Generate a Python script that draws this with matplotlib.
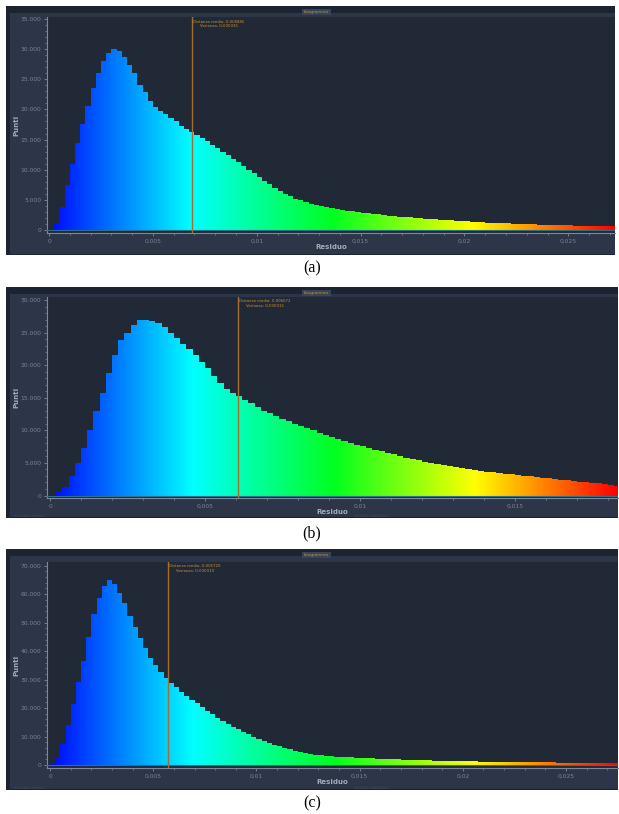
import numpy as np
import matplotlib
matplotlib.use("Agg")
import matplotlib.pyplot as plt
from matplotlib.colors import LinearSegmentedColormap
from matplotlib.patches import Rectangle
from matplotlib.ticker import FuncFormatter, MultipleLocator

W, H = 619, 814

# ---- panel (a) : histogram counts, bin width 0.00025 starting at 0
bin_a = 0.00025
counts_a = [100, 1200, 3800, 7500,
            11000, 14500, 17500, 20500,
            23500, 26000, 28000, 29300,
            30100, 29700, 28700, 27400, 26000,
            24000, 22900, 21400, 20400,
            19700, 19200, 18600, 18000,
            17300, 16800, 16300, 15700,
            15200, 14700, 14100, 13600,
            13000, 12400, 11800, 11200,
            10600, 10000, 9400, 8800,
            8200, 7600, 7000, 6500,
            6000, 5600, 5200, 4900,
            4600, 4350, 4100, 3900,
            3750, 3600, 3450, 3300,
            3200, 3100, 3000, 2900,
            2800, 2700, 2600, 2500,
            2400, 2300, 2220, 2150,
            2080, 2000, 1940, 1880,
            1820, 1760, 1700, 1640,
            1580, 1530, 1480, 1430,
            1380, 1330, 1280, 1240,
            1200, 1160, 1120, 1080,
            1040, 1010, 980, 950,
            920, 890, 860, 840,
            820, 800, 780, 760,
            740, 720, 700, 680,
            660, 640, 620, 600]
mean_a = 0.006885
text_a = "Distanza media: 0,006885\nVarianza: 0,000035"

# ---- panel (b) : bin width 0.0002
bin_b = 0.0002
counts_b = [100, 500, 1300, 3000, 5000,
            7300, 10000, 13000, 15800, 18800,
            21500, 23800, 25000, 26100, 26900,
            27000, 26800, 26400, 25800, 25000,
            24200, 23300, 22500, 21500, 20500,
            19500, 18400, 17300, 16400, 15700,
            15200, 14700, 14200, 13600, 13000,
            12600, 12200, 11800, 11400, 11000,
            10700, 10300, 10000, 9600, 9300,
            9000, 8700, 8400, 8100, 7800,
            7550, 7300, 7050, 6800, 6550,
            6300, 6050, 5800, 5600, 5400,
            5200, 5000, 4800, 4650, 4500,
            4350, 4200, 4050, 3900, 3750,
            3650, 3550, 3450, 3350, 3250,
            3150, 3050, 2950, 2850, 2750,
            2650, 2550, 2450, 2350, 2250,
            2150, 2050, 1950, 1850, 1750,
            1650, 1500]
mean_b = 0.006072
text_b = "Distanza media: 0,006072\nVarianza: 0,000015"

# ---- panel (c) : bin width 0.00025
bin_c = 0.00025
counts_c = [200, 2500, 7500, 14000,
            21500, 29000, 36500, 45000,
            53000, 58500, 63000, 65000,
            63500, 60500, 57000, 52500,
            48500, 44500, 41000, 37500,
            35000, 32500, 30500, 28800,
            27300, 25800, 24300, 22900,
            21700, 20400, 19100, 17800,
            16600, 15500, 14500, 13500,
            12500, 11600, 10800, 10000,
            9300, 8600, 7900, 7200,
            6600, 6000, 5500, 5000,
            4600, 4200, 3900, 3600,
            3400, 3250, 3100, 2980,
            2870, 2760, 2660, 2570,
            2480, 2400, 2320, 2240,
            2160, 2090, 2020, 1950,
            1890, 1830, 1770, 1710,
            1660, 1610, 1560, 1510,
            1470, 1430, 1390, 1350,
            1310, 1280, 1250, 1220,
            1190, 1160, 1130, 1100,
            1080, 1050, 1030, 1010,
            990, 970, 950, 930,
            910, 890, 870, 850,
            840, 820, 810, 800,
            790, 780, 770, 760,
            750, 740]
mean_c = 0.005720
text_c = "Distanza media: 0,005720\nVarianza: 0,000019"

FRAME = "#1d2431"
PANEL = "#2c3648"
PLOT = "#212937"
GREY = "#7e8899"
ORANGE = "#c98f32"

cmap = LinearSegmentedColormap.from_list(
    "resid", ["#0008ff", "#00ffff", "#00ff20", "#ffff00", "#ff0000"])


def fbox(x0, y0, x1, y1):
    return [x0 / W, 1 - y1 / H, (x1 - x0) / W, (y1 - y0) / H]


def rect(fig, x0, y0, x1, y1, color):
    b = fbox(x0, y0, x1, y1)
    fig.add_artist(Rectangle((b[0], b[1]), b[2], b[3], transform=fig.transFigure,
                             facecolor=color, edgecolor="none", zorder=0))


def ytick_fmt(v, pos):
    return "{:,}".format(int(round(v))).replace(",", ".")


def xtick_fmt(v, pos):
    if abs(v) < 1e-12:
        return "0"
    return "{:.3f}".format(v).rstrip("0").replace(".", ",")


def drawPanel(fig, frame, plot, counts, bw, xlim, ylim, ystep, yminor,
              mean, mtext, tag, tag_y, faint=False):
    fx0, fy0, fx1, fy1 = frame
    px0, py0, px1, py1 = plot
    rect(fig, fx0, fy0, fx1, fy1, FRAME)
    rect(fig, fx0 + 4, fy0 + 7, fx1, fy1 - 1, PANEL)
    # "Istogramma" tab on the top bar
    rect(fig, 302, fy0 + 3, 331, fy0 + 9, "#38445a")
    fig.text(316.5 / W, 1 - (fy0 + 6.2) / H, "Istogramma", fontsize=3,
             color=ORANGE, ha="center", va="center")

    ax = fig.add_axes(fbox(px0, py0, px1, py1))
    ax.set_facecolor(PLOT)
    edges = np.arange(len(counts) + 1) * bw
    grad = np.linspace(0, 1, 600).reshape(1, -1)
    im = ax.imshow(grad, cmap=cmap, extent=(0, xlim[1], 0, ylim[1]),
                   aspect="auto", origin="lower", zorder=2, interpolation="bilinear")
    patch = ax.stairs(counts, edges, fill=True, facecolor="none",
                      edgecolor="none", zorder=1)
    im.set_clip_path(patch)
    ax.axhline(0, color="#2f6f8a", lw=0.8, zorder=3)
    ax.axvline(mean, color="#a86c2c", lw=1.0, zorder=4)
    ax.text(mean + (xlim[1] - xlim[0]) * 0.0015, ylim[1] - (ylim[1] - ylim[0]) * 0.012,
            mtext, fontsize=2.8, color=ORANGE, ha="left", va="top",
            multialignment="center", linespacing=1.1, zorder=5)

    ax.set_xlim(*xlim)
    ax.set_ylim(*ylim)
    ax.xaxis.set_major_locator(MultipleLocator(0.005))
    ax.xaxis.set_minor_locator(MultipleLocator(0.001))
    ax.yaxis.set_major_locator(MultipleLocator(ystep))
    ax.yaxis.set_minor_locator(MultipleLocator(yminor))
    ax.xaxis.set_major_formatter(FuncFormatter(xtick_fmt))
    ax.yaxis.set_major_formatter(FuncFormatter(ytick_fmt))
    for s in ["top", "right"]:
        ax.spines[s].set_visible(False)
    for s in ["left", "bottom"]:
        ax.spines[s].set_color(GREY)
        ax.spines[s].set_linewidth(0.8)
    ax.tick_params(which="major", length=2.5, width=0.6, color=GREY,
                   labelsize=4.3, labelcolor="#7a8494", pad=1.5)
    ax.tick_params(which="minor", length=1.3, width=0.5, color=GREY)

    fig.text(16 / W, 1 - ((py0 + py1) / 2) / H, "Punti", rotation=90,
             fontsize=5, fontweight="bold", color="#a3abb8",
             ha="center", va="center")
    fig.text(((px0 + px1) / 2) / W, 1 - (py1 + 14) / H, "Residuo",
             fontsize=5, fontweight="bold", color="#a3abb8",
             ha="center", va="center")
    if faint:
        fig.text(15 / W, 1 - (fy1 - 2) / H, "Residuo minimo", fontsize=2.6,
                 color="#3f4a5b", ha="left", va="center")
        fig.text(355 / W, 1 - (fy1 - 2) / H, "Residuo massimo", fontsize=2.6,
                 color="#3f4a5b", ha="left", va="center")
    fig.text(312 / W, 1 - tag_y / H, tag, fontsize=11.5,
             family="Liberation Serif", color="black", ha="center", va="center")
    return ax


def main():
    fig = plt.figure(figsize=(W / 100, H / 100), dpi=100, facecolor="white")
    drawPanel(fig, (6, 6, 615, 255), (47, 17, 615, 233), counts_a, bin_a,
              (-0.0001, 0.02725), (-500, 35330), 5000, 1000,
              mean_a, text_a, "(a)", 268)
    drawPanel(fig, (6, 287, 618, 518), (47, 297, 618, 498), counts_b, bin_b,
              (-0.0001, 0.01832), (-380, 30460), 5000, 1000,
              mean_b, text_b, "(b)", 533, faint=True)
    drawPanel(fig, (6, 549, 618, 790), (47, 562, 618, 768), counts_c, bin_c,
              (-0.00015, 0.02752), (-1050, 71300), 10000, 2000,
              mean_c, text_c, "(c)", 803, faint=True)
    fig.savefig("out.png", dpi=100, facecolor="white")


if __name__ == "__main__":
    main()
